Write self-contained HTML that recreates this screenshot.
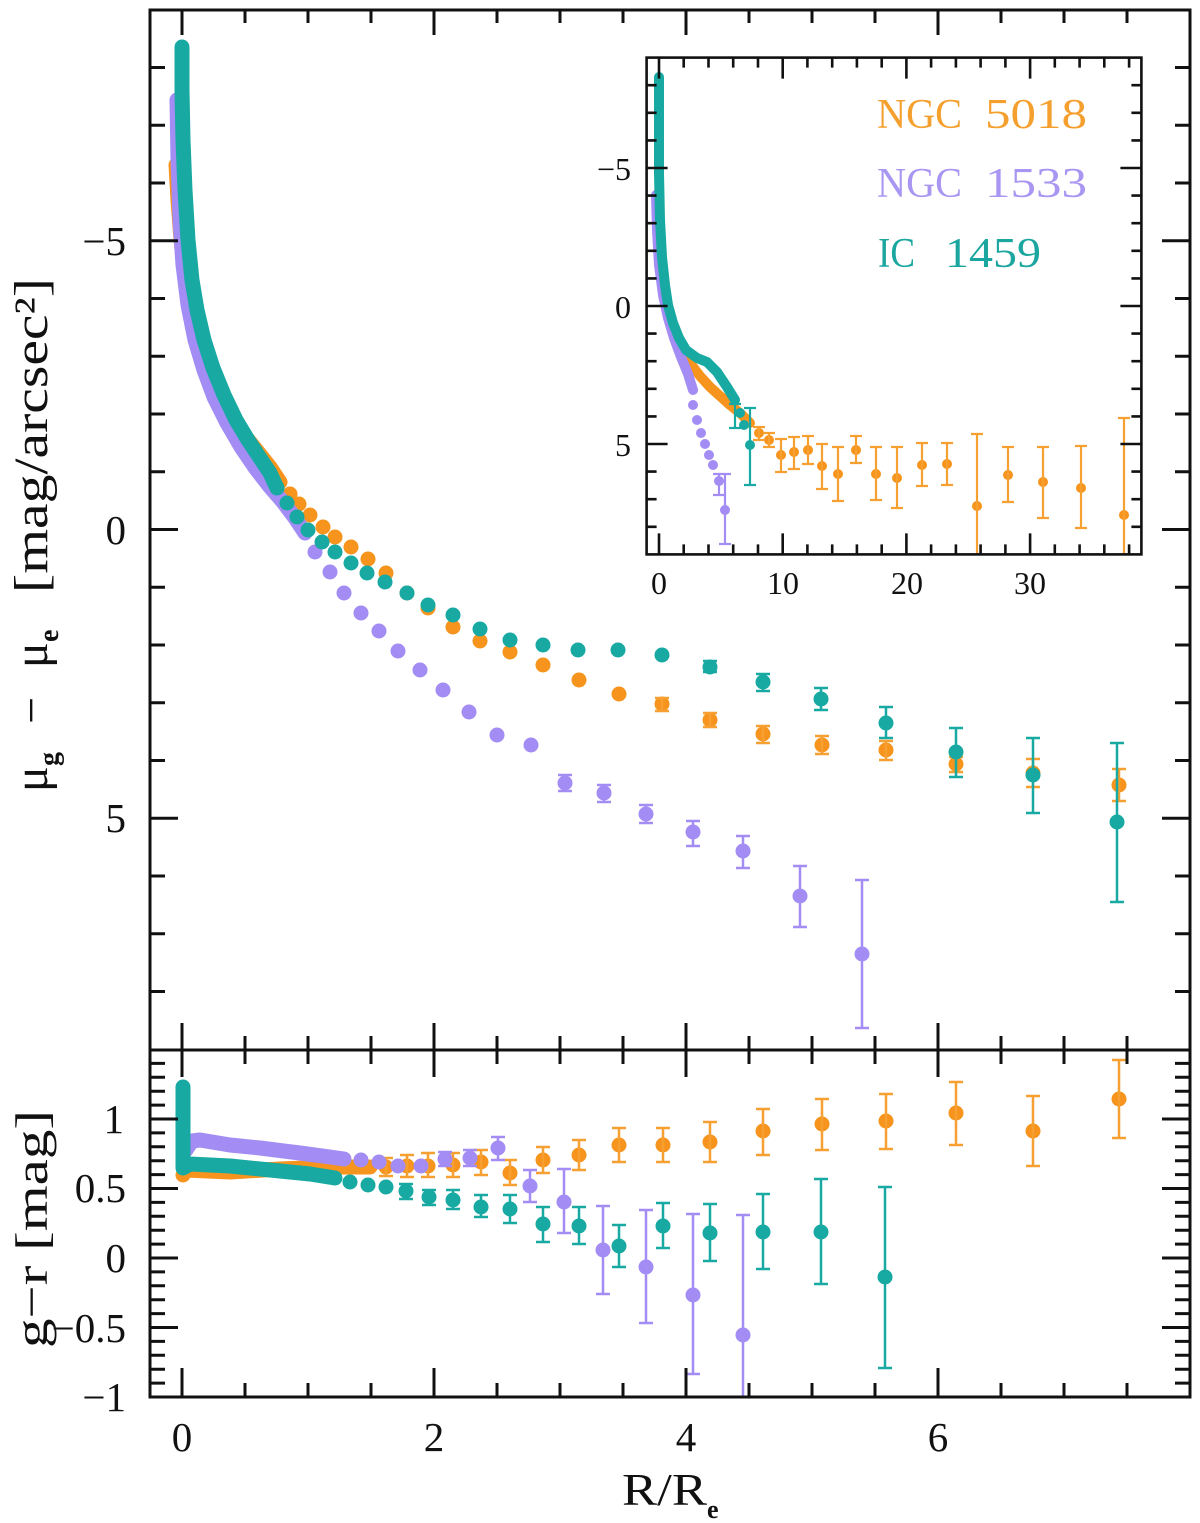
<!DOCTYPE html>
<html>
<head>
<meta charset="utf-8">
<style>
html,body{margin:0;padding:0;background:#fff;}
svg{display:block;}
text{font-family:"Liberation Serif","DejaVu Serif",serif;fill:#111;}
</style>
</head>
<body>
<svg width="1200" height="1523" viewBox="0 0 1200 1523" xmlns="http://www.w3.org/2000/svg">
<rect x="0" y="0" width="1200" height="1523" fill="#fff"/>

<!-- ================= UPPER PANEL DATA ================= -->
<g fill="none" stroke-linecap="round" stroke-linejoin="round">
  <!-- orange NGC 5018 -->
  <polyline stroke="#F7941D" stroke-width="15" points="176,165 178,200 181,240 186,285 193,325 204,360 217,390 231,415 245,436 258,452 270,467 280,482"/>
  <path stroke="#F7941D" stroke-width="15" d="M290 494h.01M299 504h.01M310 515h.01M323 527h.01M335 537h.01M351 547h.01M368 559h.01M386 573h.01M407 593h.01M428 608h.01M453 627h.01M480 641h.01M510 652h.01M543 665h.01M579 680h.01M619 694h.01M662 704h.01M710 720h.01M763 734h.01M822 745h.01M886 750h.01M956 764h.01M1033 773h.01M1119 785h.01"/>
  <path stroke="#F7A032" stroke-width="2.5" stroke-linecap="butt" d="M662 698V711M655 698H669M655 711H669M710 713V727M703 713H717M703 727H717M763 726V743M756 726H770M756 743H770M822 736V754M815 736H829M815 754H829M886 741V760M879 741H893M879 760H893M956 757V772M949 757H963M949 772H963M1033 759V787M1026 759H1040M1026 787H1040M1119 769V801M1112 769H1126M1112 801H1126"/>

  <!-- purple NGC 1533 -->
  <polyline stroke="#A38CF4" stroke-width="15" points="177,100 178,160 180,220 183,265 188,305 195,340 204,370 214,397 227,423 241,447 256,469 270,487 283,502 295,518 305,533"/>
  <path stroke="#A38CF4" stroke-width="15" d="M315 552h.01M330 572h.01M344 593h.01M361 613h.01M379 631h.01M398 651h.01M420 670h.01M443 690h.01M469 712h.01M497 735h.01M531 745h.01M565 783h.01M604 793h.01M646 814h.01M693 832h.01M743 851h.01M800 896h.01M862 954h.01"/>
  <path stroke="#A38CF4" stroke-width="2.5" stroke-linecap="butt" d="M565 775V791M558 775H572M558 791H572M604 785V802M597 785H611M597 802H611M646 805V823M639 805H653M639 823H653M693 821V846M686 821H700M686 846H700M743 836V868M736 836H750M736 868H750M800 866V927M793 866H807M793 927H807M862 880V1028M855 880H869M855 1028H869"/>

  <!-- teal IC 1459 -->
  <polyline stroke="#17A9A2" stroke-width="15" points="182,47 182,90 183,140 185,190 188,240 192,280 197,310 204,340 213,368 224,395 236,420 248,440 260,458 270,473 277,488"/>
  <path stroke="#17A9A2" stroke-width="15" d="M287 503h.01M297 517h.01M308 530h.01M322 542h.01M335 552h.01M351 563h.01M367 573h.01M385 582h.01M407 593h.01M428 605h.01M453 615h.01M480 629h.01M510 640h.01M543 645h.01M578 650h.01M618 650h.01M662 655h.01M710 667h.01M763 682h.01M821 699h.01M886 723h.01M956 752h.01M1033 775h.01M1117 822h.01"/>
  <path stroke="#17A9A2" stroke-width="2.5" stroke-linecap="butt" d="M710 661V672M703 661H717M703 672H717M763 674V691M756 674H770M756 691H770M821 688V710M814 688H828M814 710H828M886 707V738M879 707H893M879 738H893M956 728V777M949 728H963M949 777H963M1033 738V813M1026 738H1040M1026 813H1040M1117 743V902M1110 743H1124M1110 902H1124"/>
</g>

<!-- ================= LOWER PANEL DATA ================= -->
<g fill="none" stroke-linecap="round" stroke-linejoin="round">
  <!-- orange -->
  <polyline stroke="#F7941D" stroke-width="15" points="186,1170 230,1172 280,1169 330,1167 370,1167"/>
  <path stroke="#F7941D" stroke-width="15" d="M183 1175h.01M386 1167h.01M407 1166h.01M428 1166h.01M453 1165h.01M481 1162h.01M510 1173h.01M543 1160h.01M579 1155h.01M619 1145h.01M663 1145h.01M710 1142h.01M763 1131h.01M822 1124h.01M886 1121h.01M956 1113h.01M1033 1131h.01M1119 1099h.01"/>
  <path stroke="#F7A032" stroke-width="2.5" stroke-linecap="butt" d="M386 1158V1176M379 1158H393M379 1176H393M407 1155V1177M400 1155H414M400 1177H414M428 1153V1177M421 1153H435M421 1177H435M453 1153V1177M446 1153H460M446 1177H460M481 1150V1175M474 1150H488M474 1175H488M510 1160V1185M503 1160H517M503 1185H517M543 1147V1173M536 1147H550M536 1173H550M579 1140V1170M572 1140H586M572 1170H586M619 1128V1162M612 1128H626M612 1162H626M663 1128V1162M656 1128H670M656 1162H670M710 1122V1162M703 1122H717M703 1162H717M763 1109V1155M756 1109H770M756 1155H770M822 1099V1150M815 1099H829M815 1150H829M886 1094V1149M879 1094H893M879 1149H893M956 1082V1145M949 1082H963M949 1145H963M1033 1096V1166M1026 1096H1040M1026 1166H1040M1119 1060V1138M1112 1060H1126M1112 1138H1126"/>

  <!-- purple -->
  <polyline stroke="#A38CF4" stroke-width="15" points="186,1150 192,1141 200,1140 230,1145 260,1148 300,1153 330,1157 344,1159"/>
  <path stroke="#A38CF4" stroke-width="15" d="M361 1160h.01M379 1162h.01M398 1166h.01M421 1166h.01M445 1159h.01M470 1158h.01M498 1148h.01M530 1186h.01M564 1202h.01M603 1250h.01M646 1267h.01M693 1295h.01M743 1335h.01"/>
  <path stroke="#A38CF4" stroke-width="2.5" stroke-linecap="butt" d="M445 1152V1166M438 1152H452M438 1166H452M470 1150V1166M463 1150H477M463 1166H477M498 1137V1160M491 1137H505M491 1160H505M530 1170V1202M523 1170H537M523 1202H537M564 1169V1233M557 1169H571M557 1233H571M603 1206V1294M596 1206H610M596 1294H610M646 1210V1323M639 1210H653M639 1323H653M693 1214V1374M686 1214H700M686 1374H700M743 1215V1397M736 1215H750"/>

  <!-- teal -->
  <polyline stroke="#17A9A2" stroke-width="15" points="183,1087 183,1168 190,1164 230,1166 270,1170 310,1174 335,1178"/>
  <path stroke="#17A9A2" stroke-width="15" d="M350 1182h.01M368 1185h.01M386 1187h.01M406 1191h.01M429 1197h.01M453 1200h.01M481 1207h.01M510 1209h.01M543 1224h.01M579 1226h.01M619 1246h.01M663 1226h.01M710 1233h.01M763 1232h.01M821 1232h.01M885 1277h.01"/>
  <path stroke="#17A9A2" stroke-width="2.5" stroke-linecap="butt" d="M406 1184V1199M399 1184H413M399 1199H413M429 1190V1205M422 1190H436M422 1205H436M453 1190V1209M446 1190H460M446 1209H460M481 1195V1217M474 1195H488M474 1217H488M510 1195V1223M503 1195H517M503 1223H517M543 1207V1242M536 1207H550M536 1242H550M579 1207V1244M572 1207H586M572 1244H586M619 1225V1267M612 1225H626M612 1267H626M663 1203V1248M656 1203H670M656 1248H670M710 1204V1261M703 1204H717M703 1261H717M763 1194V1269M756 1194H770M756 1269H770M821 1179V1284M814 1179H828M814 1284H828M885 1187V1368M878 1187H892M878 1368H892"/>
</g>

<!-- ================= MAIN FRAME & TICKS ================= -->
<g fill="none" stroke="#111" stroke-width="3">
  <rect x="150" y="10" width="1040" height="1387"/>
  <line x1="150" y1="1050" x2="1190" y2="1050"/>
  <!-- upper left -->
  <path d="M150 67.5h15M150 125.25h15M150 183h15M150 240.75h28M150 298.5h15M150 356.25h15M150 414h15M150 471.75h15M150 529.5h28M150 587.25h15M150 645h15M150 702.75h15M150 760.5h15M150 818.25h28M150 876h15M150 933.75h15M150 991.5h15"/>
  <!-- upper right -->
  <path d="M1190 67.5h-15M1190 125.25h-15M1190 183h-15M1190 240.75h-28M1190 298.5h-15M1190 356.25h-15M1190 414h-15M1190 471.75h-15M1190 529.5h-28M1190 587.25h-15M1190 645h-15M1190 702.75h-15M1190 760.5h-15M1190 818.25h-28M1190 876h-15M1190 933.75h-15M1190 991.5h-15"/>
  <!-- top -->
  <path d="M182 10v25M245 10v13M308 10v13M371 10v13M434 10v25M497 10v13M560 10v13M623 10v13M686 10v25M749 10v13M812 10v13M875 10v13M938 10v25M1001 10v13M1064 10v13M1127 10v13"/>
  <!-- separator (both directions) -->
  <path d="M182 1023v54M245 1036v28M308 1036v28M371 1036v28M434 1023v54M497 1036v28M560 1036v28M623 1036v28M686 1023v54M749 1036v28M812 1036v28M875 1036v28M938 1023v54M1001 1036v28M1064 1036v28M1127 1036v28"/>
  <!-- bottom -->
  <path d="M182 1397v-29M245 1397v-14M308 1397v-14M371 1397v-14M434 1397v-29M497 1397v-14M560 1397v-14M623 1397v-14M686 1397v-29M749 1397v-14M812 1397v-14M875 1397v-14M938 1397v-29M1001 1397v-14M1064 1397v-14M1127 1397v-14"/>
  <!-- lower left -->
  <path d="M150 1383.1h15M150 1369.2h15M150 1355.3h15M150 1341.4h15M150 1327.5h28M150 1313.6h15M150 1299.7h15M150 1285.8h15M150 1271.9h15M150 1258h28M150 1244.1h15M150 1230.2h15M150 1216.3h15M150 1202.4h15M150 1188.5h28M150 1174.6h15M150 1160.7h15M150 1146.8h15M150 1132.9h15M150 1119h28M150 1105.1h15M150 1091.2h15M150 1077.3h15M150 1063.4h15"/>
  <!-- lower right -->
  <path d="M1190 1383.1h-15M1190 1369.2h-15M1190 1355.3h-15M1190 1341.4h-15M1190 1327.5h-28M1190 1313.6h-15M1190 1299.7h-15M1190 1285.8h-15M1190 1271.9h-15M1190 1258h-28M1190 1244.1h-15M1190 1230.2h-15M1190 1216.3h-15M1190 1202.4h-15M1190 1188.5h-28M1190 1174.6h-15M1190 1160.7h-15M1190 1146.8h-15M1190 1132.9h-15M1190 1119h-28M1190 1105.1h-15M1190 1091.2h-15M1190 1077.3h-15M1190 1063.4h-15"/>
</g>

<!-- ================= INSET ================= -->
<rect x="646.6" y="57.6" width="494.8" height="496.8" fill="#fff"/>
<g fill="none" stroke-linecap="round" stroke-linejoin="round">
  <!-- orange -->
  <polyline stroke="#F7941D" stroke-width="10" points="659,200 660,250 662,285 667,310 673,330 681,348 690,363 700,376 710,387 720,396 730,405 740,413 750,423"/>
  <path stroke="#F7941D" stroke-width="10" d="M759 433h.01M769 440h.01M781 455h.01M794 452h.01M808 450h.01M822 466h.01M838 474h.01M856 450h.01M876 474h.01M897 478h.01M922 465h.01M947 464h.01M977 506h.01M1008 475h.01M1043 482h.01M1081 488h.01M1124 515h.01"/>
  <path stroke="#F7A032" stroke-width="2.2" stroke-linecap="butt" d="M759 427V440M753 427H765M753 440H765M769 433V447M763 433H775M763 447H775M781 439V472M775 439H787M775 472H787M794 437V469M788 437H800M788 469H800M808 436V464M802 436H814M802 464H814M822 444V489M816 444H828M816 489H828M838 447V501M832 447H844M832 501H844M856 436V463M850 436H862M850 463H862M876 447V500M870 447H882M870 500H882M897 447V508M891 447H903M891 508H903M922 443V486M916 443H928M916 486H928M947 443V485M941 443H953M941 485H953M977 434V554M971 434H983M1008 447V502M1002 447H1014M1002 502H1014M1043 447V518M1037 447H1049M1037 518H1049M1081 446V528M1075 446H1087M1075 528H1087M1124 418V554M1118 418H1130"/>
  <!-- purple -->
  <polyline stroke="#A38CF4" stroke-width="10" points="656,195 657,230 659,265 663,295 668,318 674,338 681,357 688,374 693,390"/>
  <path stroke="#A38CF4" stroke-width="10" d="M693 405h.01M697 420h.01M701 433h.01M705 444h.01M709 455h.01M713 465h.01M719 481h.01M725 510h.01"/>
  <path stroke="#A38CF4" stroke-width="2.2" stroke-linecap="butt" d="M719 474V495M713 474H725M713 495H725M725 474V544M719 474H731M719 544H731"/>
  <!-- teal -->
  <polyline stroke="#17A9A2" stroke-width="10" points="659,77 659,120 659,173 660,220 662,257 665,285 668,305 673,323 679,338 686,350 697,358 707,362 717,372 727,387 735,400"/>
  <path stroke="#17A9A2" stroke-width="10" d="M740 413h.01M744 425h.01M750 445h.01"/>
  <path stroke="#17A9A2" stroke-width="2.2" stroke-linecap="butt" d="M735 404V428M729 404H741M729 428H741M750 408V485M744 408H756M744 485H756"/>
</g>
<g fill="none" stroke="#111" stroke-width="2.6">
  <rect x="646.6" y="57.6" width="494.8" height="496.8"/>
  <!-- inset bottom -->
  <path d="M659 554.4v-21M683.7 554.4v-10M708.5 554.4v-10M733.2 554.4v-10M758 554.4v-10M782.7 554.4v-21M807.4 554.4v-10M832.2 554.4v-10M856.9 554.4v-10M881.7 554.4v-10M906.4 554.4v-21M931.1 554.4v-10M955.9 554.4v-10M980.6 554.4v-10M1005.4 554.4v-10M1030.1 554.4v-21M1054.8 554.4v-10M1079.6 554.4v-10M1104.3 554.4v-10M1129.1 554.4v-10"/>
  <!-- inset top -->
  <path d="M659 57.6v21M683.7 57.6v10M708.5 57.6v10M733.2 57.6v10M758 57.6v10M782.7 57.6v21M807.4 57.6v10M832.2 57.6v10M856.9 57.6v10M881.7 57.6v10M906.4 57.6v21M931.1 57.6v10M955.9 57.6v10M980.6 57.6v10M1005.4 57.6v10M1030.1 57.6v21M1054.8 57.6v10M1079.6 57.6v10M1104.3 57.6v10M1129.1 57.6v10"/>
  <!-- inset left -->
  <path d="M646.6 85.2h10M646.6 112.8h10M646.6 140.4h10M646.6 168h21M646.6 195.6h10M646.6 223.2h10M646.6 250.8h10M646.6 278.4h10M646.6 306h21M646.6 333.6h10M646.6 361.2h10M646.6 388.8h10M646.6 416.4h10M646.6 444h21M646.6 471.6h10M646.6 499.2h10M646.6 526.8h10"/>
  <!-- inset right -->
  <path d="M1141.4 85.2h-10M1141.4 112.8h-10M1141.4 140.4h-10M1141.4 168h-21M1141.4 195.6h-10M1141.4 223.2h-10M1141.4 250.8h-10M1141.4 278.4h-10M1141.4 306h-21M1141.4 333.6h-10M1141.4 361.2h-10M1141.4 388.8h-10M1141.4 416.4h-10M1141.4 444h-21M1141.4 471.6h-10M1141.4 499.2h-10M1141.4 526.8h-10"/>
</g>

<!-- inset legend -->
<g font-size="42">
  <text x="877" y="128" style="fill:#F5A02E" textLength="85" lengthAdjust="spacingAndGlyphs">NGC</text>
  <text x="985" y="128" style="fill:#F5A02E" textLength="102" lengthAdjust="spacingAndGlyphs">5018</text>
  <text x="877" y="197" style="fill:#A995F2" textLength="85" lengthAdjust="spacingAndGlyphs">NGC</text>
  <text x="985" y="197" style="fill:#A995F2" textLength="102" lengthAdjust="spacingAndGlyphs">1533</text>
  <text x="878" y="267" style="fill:#1BA6A0" textLength="37" lengthAdjust="spacingAndGlyphs">IC</text>
  <text x="945" y="267" style="fill:#1BA6A0" textLength="96" lengthAdjust="spacingAndGlyphs">1459</text>
</g>

<!-- inset tick labels -->
<g font-size="32">
  <text x="631" y="180" text-anchor="end">−5</text>
  <text x="631" y="318" text-anchor="end">0</text>
  <text x="631" y="456" text-anchor="end">5</text>
  <text x="659" y="594" text-anchor="middle">0</text>
  <text x="783" y="594" text-anchor="middle">10</text>
  <text x="907" y="594" text-anchor="middle">20</text>
  <text x="1030" y="594" text-anchor="middle">30</text>
</g>

<!-- main tick labels -->
<g font-size="41">
  <text x="126" y="255" text-anchor="end">−5</text>
  <text x="126" y="544" text-anchor="end">0</text>
  <text x="126" y="832" text-anchor="end">5</text>
  <text x="124" y="1133" text-anchor="end">1</text>
  <text x="126" y="1202" text-anchor="end">0.5</text>
  <text x="126" y="1272" text-anchor="end">0</text>
  <text x="126" y="1342" text-anchor="end">−0.5</text>
  <text x="126" y="1411" text-anchor="end">−1</text>
  <text x="182" y="1451" text-anchor="middle">0</text>
  <text x="434" y="1451" text-anchor="middle">2</text>
  <text x="686" y="1451" text-anchor="middle">4</text>
  <text x="938" y="1451" text-anchor="middle">6</text>
</g>

<!-- x axis label -->
<text x="622" y="1505" font-size="45" textLength="85" lengthAdjust="spacingAndGlyphs">R/R</text>
<text x="707" y="1518" font-size="26" font-weight="bold">e</text>

<!-- y axis labels (rotated) -->
<g transform="translate(47,0) rotate(-90)">
  <text x="-792" y="0" font-size="48">μ</text>
  <text x="-766" y="11" font-size="28" font-weight="bold">g</text>
  <text x="-724" y="0" font-size="48">−</text>
  <text x="-668" y="0" font-size="48">μ</text>
  <text x="-642" y="11" font-size="28" font-weight="bold">e</text>
  <text x="-593" y="0" font-size="48" textLength="315" lengthAdjust="spacingAndGlyphs">[mag/arcsec²]</text>
  <text x="-1348" y="0" font-size="46" textLength="238" lengthAdjust="spacingAndGlyphs">g−r [mag]</text>
</g>
</svg>
</body>
</html>
